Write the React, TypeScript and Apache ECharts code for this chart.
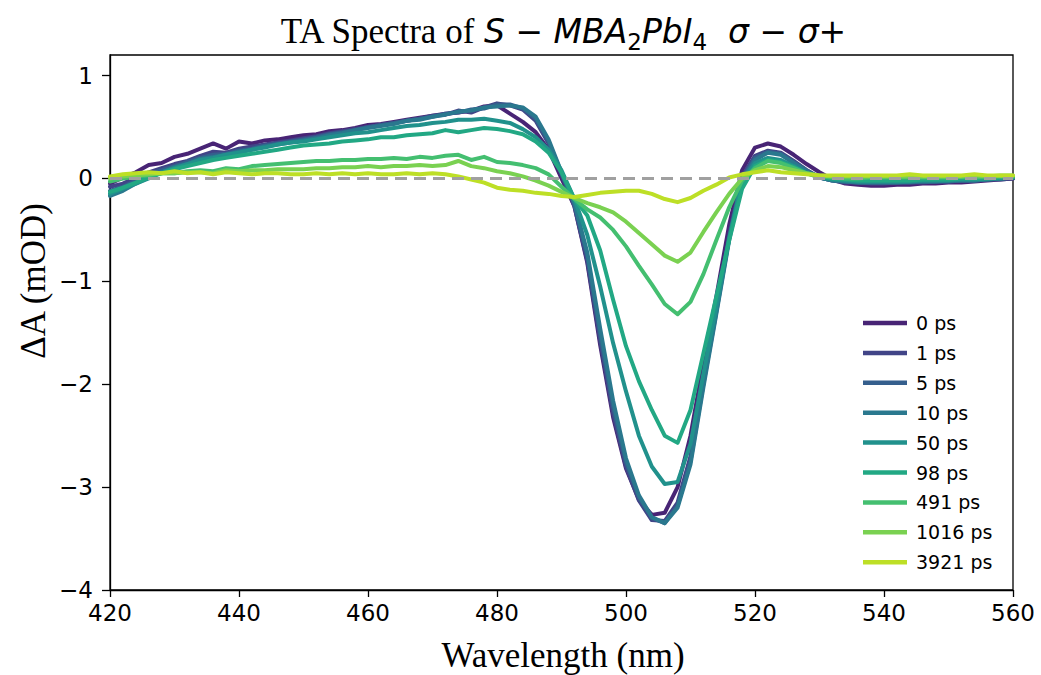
import React, { useEffect, useRef } from "react";
import * as echarts from "echarts";

const wavelengths = [
  420, 422, 424, 426, 428, 430, 432, 434, 436, 438, 440, 442, 444, 446, 448, 450, 452, 454, 456, 458,
  460, 462, 464, 466, 468, 470, 472, 474, 476, 478, 480, 482, 484, 486, 488, 490, 492, 494, 496, 498,
  500, 502, 504, 506, 508, 510, 512, 514, 516, 518, 520, 522, 524, 526, 528, 530, 532, 534, 536, 538,
  540, 542, 544, 546, 548, 550, 552, 554, 556, 558, 560,
];

const seriesNames = ["0 ps", "1 ps", "5 ps", "10 ps", "50 ps", "98 ps", "491 ps", "1016 ps", "3921 ps"];
const seriesColors = ["#482475", "#414487", "#355f8d", "#2a788e", "#21918c", "#22a884", "#44bf70", "#7ad151", "#bddf26"];

const ps0 = [
  -0.05, 0.01, 0.06, 0.13, 0.15, 0.21, 0.24, 0.29, 0.34, 0.29, 0.36, 0.34, 0.37, 0.38, 0.4, 0.42, 0.43, 0.46, 0.47, 0.49,
  0.52, 0.53, 0.55, 0.57, 0.59, 0.61, 0.63, 0.64, 0.66, 0.7, 0.71, 0.63, 0.55, 0.45, 0.28, 0.0, -0.27, -0.82, -1.62, -2.32,
  -2.82, -3.12, -3.27, -3.25, -3.0, -2.5, -1.8, -1.15, -0.45, 0.08, 0.3, 0.34, 0.31, 0.23, 0.14, 0.06, -0.01, -0.05, -0.06, -0.07,
  -0.07, -0.06, -0.06, -0.05, -0.05, -0.04, -0.04, -0.03, -0.02, -0.01, 0.0,
];
const ps1 = [
  -0.08, -0.05, 0.01, 0.06, 0.1, 0.14, 0.17, 0.22, 0.26, 0.25, 0.29, 0.31, 0.33, 0.35, 0.37, 0.39, 0.41, 0.44, 0.46, 0.48,
  0.5, 0.52, 0.54, 0.56, 0.58, 0.61, 0.62, 0.66, 0.64, 0.69, 0.73, 0.71, 0.67, 0.56, 0.34, 0.04, -0.27, -0.8, -1.58, -2.28,
  -2.8, -3.13, -3.32, -3.33, -3.15, -2.7, -1.95, -1.25, -0.55, 0.02, 0.22, 0.27, 0.25, 0.17, 0.08, 0.01, -0.02, -0.04, -0.04, -0.05,
  -0.05, -0.04, -0.04, -0.04, -0.03, -0.03, -0.02, -0.02, -0.01, -0.01, 0.0,
];
const ps5 = [
  -0.12, -0.08, -0.02, 0.04, 0.08, 0.12, 0.16, 0.2, 0.23, 0.24, 0.27, 0.29, 0.32, 0.34, 0.36, 0.38, 0.4, 0.43, 0.45, 0.47,
  0.5, 0.52, 0.54, 0.56, 0.58, 0.6, 0.63, 0.64, 0.67, 0.68, 0.72, 0.72, 0.68, 0.58, 0.36, 0.05, -0.25, -0.76, -1.52, -2.22,
  -2.76, -3.1, -3.3, -3.35, -3.18, -2.75, -2.0, -1.3, -0.58, 0.0, 0.2, 0.26, 0.24, 0.16, 0.08, 0.01, -0.02, -0.03, -0.04, -0.04,
  -0.04, -0.04, -0.04, -0.03, -0.03, -0.03, -0.02, -0.02, -0.01, 0.0, 0.01,
];
const ps10 = [
  -0.17, -0.12, -0.05, 0.01, 0.06, 0.11, 0.14, 0.19, 0.21, 0.23, 0.26, 0.28, 0.31, 0.33, 0.35, 0.37, 0.39, 0.42, 0.44, 0.47,
  0.49, 0.51, 0.53, 0.56, 0.57, 0.6, 0.62, 0.65, 0.66, 0.69, 0.7, 0.71, 0.69, 0.6, 0.38, 0.06, -0.24, -0.72, -1.46, -2.16,
  -2.72, -3.08, -3.29, -3.35, -3.2, -2.78, -2.03, -1.32, -0.6, -0.02, 0.18, 0.25, 0.23, 0.15, 0.07, 0.01, -0.02, -0.03, -0.04, -0.04,
  -0.04, -0.04, -0.03, -0.03, -0.03, -0.02, -0.02, -0.02, -0.01, 0.0, 0.01,
];
const ps50 = [
  -0.15, -0.1, -0.05, 0.0, 0.06, 0.1, 0.14, 0.18, 0.2, 0.23, 0.25, 0.28, 0.3, 0.33, 0.35, 0.36, 0.38, 0.4, 0.42, 0.44,
  0.45, 0.47, 0.49, 0.51, 0.52, 0.54, 0.55, 0.57, 0.57, 0.58, 0.56, 0.54, 0.48, 0.4, 0.28, 0.08, -0.2, -0.55, -1.05, -1.6,
  -2.07, -2.5, -2.8, -2.97, -2.95, -2.58, -1.9, -1.25, -0.58, -0.03, 0.15, 0.2, 0.18, 0.12, 0.05, 0.01, -0.01, -0.02, -0.03, -0.03,
  -0.03, -0.03, -0.03, -0.02, -0.02, -0.02, -0.01, -0.01, 0.0, 0.0, 0.01,
];
const ps98 = [
  -0.13, -0.09, -0.04, 0.01, 0.05, 0.09, 0.12, 0.15, 0.18, 0.2, 0.22, 0.24, 0.26, 0.28, 0.3, 0.32, 0.33, 0.34, 0.36, 0.37,
  0.38, 0.4, 0.4, 0.42, 0.43, 0.44, 0.47, 0.45, 0.47, 0.49, 0.48, 0.46, 0.43, 0.36, 0.25, 0.06, -0.2, -0.36, -0.7, -1.18,
  -1.63, -1.97, -2.25, -2.5, -2.57, -2.25, -1.7, -1.15, -0.6, -0.1, 0.12, 0.18, 0.16, 0.11, 0.05, 0.02, 0.0, -0.01, -0.02, -0.02,
  -0.02, -0.02, -0.02, -0.01, -0.01, -0.01, 0.0, 0.0, 0.0, 0.01, 0.01,
];
const ps491 = [
  -0.03, 0.0, 0.02, 0.03, 0.05, 0.05, 0.07, 0.08, 0.07, 0.1, 0.09, 0.12, 0.13, 0.14, 0.15, 0.16, 0.17, 0.17, 0.18, 0.18,
  0.19, 0.19, 0.2, 0.19, 0.21, 0.2, 0.22, 0.23, 0.18, 0.21, 0.16, 0.15, 0.13, 0.1, 0.04, -0.08, -0.2, -0.3, -0.38, -0.5,
  -0.66, -0.85, -1.03, -1.22, -1.32, -1.2, -0.93, -0.6, -0.28, -0.02, 0.1, 0.17, 0.15, 0.1, 0.05, 0.02, 0.01, 0.0, 0.0, 0.01,
  0.01, 0.01, 0.01, 0.01, 0.01, 0.01, 0.02, 0.01, 0.02, 0.02, 0.02,
];
const ps1016 = [
  0.0, 0.02, 0.03, 0.04, 0.05, 0.05, 0.06, 0.06, 0.05, 0.08, 0.07, 0.08, 0.08, 0.09, 0.09, 0.09, 0.1, 0.1, 0.11, 0.11,
  0.12, 0.11, 0.12, 0.12, 0.13, 0.12, 0.13, 0.17, 0.12, 0.1, 0.07, 0.05, 0.02, -0.02, -0.07, -0.13, -0.19, -0.24, -0.28, -0.33,
  -0.42, -0.53, -0.64, -0.75, -0.81, -0.72, -0.52, -0.33, -0.15, 0.0, 0.08, 0.12, 0.11, 0.08, 0.05, 0.03, 0.02, 0.02, 0.02, 0.02,
  0.02, 0.02, 0.02, 0.02, 0.02, 0.02, 0.02, 0.03, 0.02, 0.03, 0.03,
];
const ps3921 = [
  0.02, 0.04, 0.05, 0.06, 0.05, 0.07, 0.05, 0.06, 0.04, 0.06, 0.05, 0.04, 0.05, 0.05, 0.04, 0.04, 0.05, 0.04, 0.05, 0.04,
  0.05, 0.04, 0.04, 0.05, 0.04, 0.05, 0.04, 0.02, -0.01, -0.04, -0.09, -0.11, -0.12, -0.14, -0.15, -0.17, -0.18, -0.16, -0.14, -0.13,
  -0.12, -0.12, -0.15, -0.2, -0.23, -0.19, -0.12, -0.06, 0.01, 0.04, 0.06, 0.08, 0.06, 0.05, 0.04, 0.03, 0.03, 0.03, 0.03, 0.03,
  0.03, 0.03, 0.04, 0.03, 0.03, 0.03, 0.03, 0.04, 0.03, 0.03, 0.03,
];

const seriesValues = [ps0, ps1, ps5, ps10, ps50, ps98, ps491, ps1016, ps3921];

const xTicks = [420, 440, 460, 480, 500, 520, 540, 560];
const yTicks = [-4, -3, -2, -1, 0, 1];
const zeroLineX = [420, 560];
const zeroLineY = [0, 0];

const SERIF = "'Liberation Serif', 'Times New Roman', serif";
const SANS = "'DejaVu Sans', sans-serif";

export default function App() {
  const ref = useRef<HTMLDivElement>(null);
  useEffect(() => {
    if (!ref.current) return;
    const chart = echarts.init(ref.current, null, { renderer: "svg" });
    const fmt = (v: number) => String(v).replace("-", "\u2212");
    const series: any[] = seriesNames.map((name, k) => ({
      name,
      type: "line",
      data: wavelengths.map((x, i) => [x, seriesValues[k][i]]),
      showSymbol: false,
      symbol: "none",
      smooth: false,
      lineStyle: { width: 4, color: seriesColors[k], join: "round", cap: "round" },
      itemStyle: { color: seriesColors[k] },
      z: 2 + k,
    }));
    series.push({
      name: "zero",
      type: "line",
      data: zeroLineX.map((x, i) => [x, zeroLineY[i]]),
      showSymbol: false,
      symbol: "none",
      silent: true,
      lineStyle: { color: "#a0a0a0", type: [12, 7], width: 3 },
      itemStyle: { color: "#a0a0a0" },
      z: 20,
    });
    chart.setOption({
      animation: false,
      backgroundColor: "#ffffff",
      grid: {
        left: 110,
        right: 28,
        top: 55,
        bottom: 85,
        show: true,
        borderColor: "#000",
        borderWidth: 1.3,
        containLabel: false,
      },
      xAxis: {
        type: "value",
        min: 420,
        max: 560,
        interval: 20,
        axisLine: { show: true, onZero: false, lineStyle: { color: "#000", width: 1.3 } },
        axisTick: { show: true, length: 7, lineStyle: { color: "#000", width: 1.3 }, customValues: xTicks },
        axisLabel: { customValues: xTicks, fontFamily: SANS, fontSize: 23, color: "#000", margin: 11 },
        splitLine: { show: false },
      },
      yAxis: {
        type: "value",
        min: -4,
        max: 1.2,
        interval: 1,
        axisLine: { show: true, onZero: false, lineStyle: { color: "#000", width: 1.3 } },
        axisTick: { show: true, length: 8, lineStyle: { color: "#000", width: 1.3 }, customValues: yTicks },
        axisLabel: { customValues: yTicks, fontFamily: SANS, fontSize: 23, color: "#000", margin: 17, formatter: fmt },
        splitLine: { show: false },
      },
      legend: {
        orient: "vertical",
        left: 858,
        top: 308,
        icon: "rect",
        itemWidth: 44,
        itemHeight: 4.5,
        itemGap: 9.9,
        textStyle: { fontFamily: SANS, fontSize: 19, color: "#000", lineHeight: 20, padding: [0, 0, 0, 4] },
        data: seriesNames,
      },
      graphic: [
        {
          type: "text",
          x: 563,
          y: 31,
          style: {
            text: "{a|TA Spectra of }{m|S \u2212 MBA}{s|2}{m|PbI}{s|4}{m|  \u03c3 \u2212 \u03c3+}",
            align: "center",
            verticalAlign: "middle",
            rich: {
              a: { fontFamily: SERIF, fontSize: 35, lineHeight: 44, fill: "#000" },
              m: { fontFamily: SANS, fontStyle: "italic", fontSize: 33, lineHeight: 44, fill: "#000" },
              s: { fontFamily: SANS, fontSize: 23, lineHeight: 22, verticalAlign: "bottom", fill: "#000" },
            },
          },
        },
        {
          type: "text",
          x: 563,
          y: 655,
          style: {
            text: "Wavelength (nm)",
            align: "center",
            verticalAlign: "middle",
            font: "35px " + SERIF,
            fill: "#000",
          },
        },
        {
          type: "text",
          x: 33,
          y: 281,
          rotation: Math.PI / 2,
          style: {
            text: "\u0394A (mOD)",
            align: "center",
            verticalAlign: "middle",
            font: "35px " + SERIF,
            fill: "#000",
          },
        },
      ],
      series,
    });
    return () => chart.dispose();
  }, []);
  return <div ref={ref} style={{ position: "fixed", left: 0, top: 0, width: 1041, height: 675 }} />;
}
